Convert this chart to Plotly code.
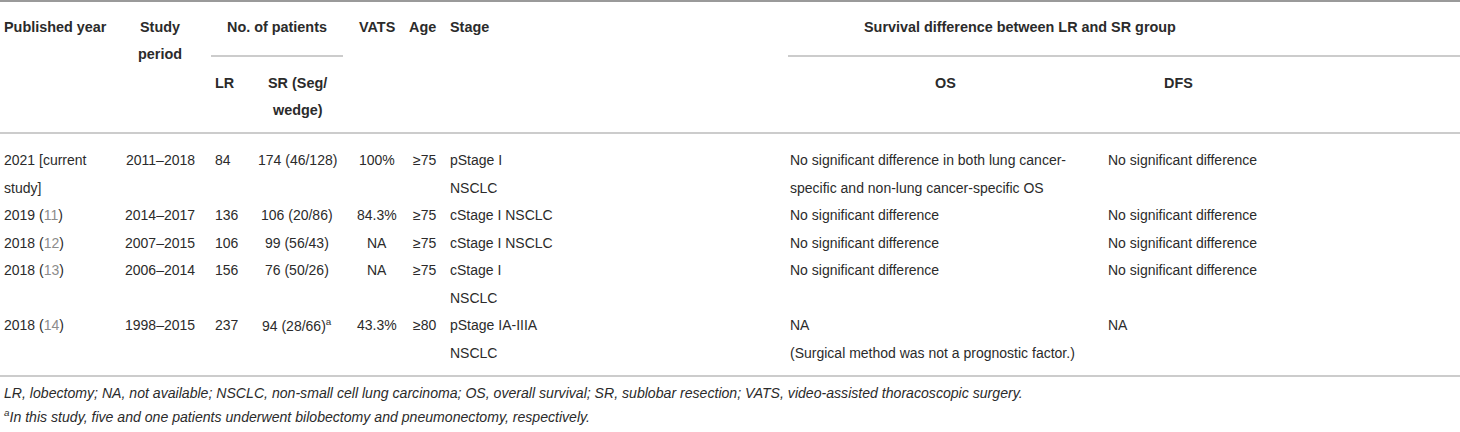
import plotly.graph_objects as go

# table contents
years = ["2021 [current<br>study]", "2019 (<span style='color:#8c8c8c'>11</span>)",
         "2018 (<span style='color:#8c8c8c'>12</span>)", "2018 (<span style='color:#8c8c8c'>13</span>)",
         "2018 (<span style='color:#8c8c8c'>14</span>)"]
periods = ["2011–2018", "2014–2017", "2007–2015", "2006–2014", "1998–2015"]
lr = ["84", "136", "106", "156", "237"]
sr = ["174 (46/128)", "106 (20/86)", "99 (56/43)", "76 (50/26)", "94 (28/66)<sup>a</sup>"]
vats = ["100%", "84.3%", "NA", "NA", "43.3%"]
age = ["≥75", "≥75", "≥75", "≥75", "≥80"]
stage = ["pStage I<br>NSCLC", "cStage I NSCLC", "cStage I NSCLC", "cStage I<br>NSCLC", "pStage IA-IIIA<br>NSCLC"]
os_diff = ["No significant difference in both lung cancer-<br>specific and non-lung cancer-specific OS",
           "No significant difference", "No significant difference", "No significant difference",
           "NA<br>(Surgical method was not a prognostic factor.)"]
dfs_diff = ["No significant difference", "No significant difference", "No significant difference",
            "No significant difference", "NA"]
footnotes = ["LR, lobectomy; NA, not available; NSCLC, non-small cell lung carcinoma; OS, overall survival; "
             "SR, sublobar resection; VATS, video-assisted thoracoscopic surgery.",
             "<sup>a</sup>In this study, five and one patients underwent bilobectomy and pneumonectomy, respectively."]

FONT = "Liberation Sans, Arial, sans-serif"
TXT = "#2b2b2b"
LINE = "#9a9a9a"
W, H = 1460, 432

fig = go.Figure()
fig.add_trace(go.Scatter(x=[0, W], y=[0, H], mode="markers", marker=dict(opacity=0),
                         hoverinfo="skip", showlegend=False))


def put(x, y, text, anchor="left", bold=False, italic=False, size=14):
    if bold:
        text = "<b>" + text + "</b>"
    if italic:
        text = "<i>" + text + "</i>"
    fig.add_annotation(x=x, y=y, xref="x", yref="y", text=text, showarrow=False,
                       xanchor=anchor, yanchor="middle", align=anchor,
                       font=dict(family=FONT, size=size, color=TXT))


def head(x, y, text, anchor="left"):
    put(x, y, text, anchor, bold=True, size=14.4)


def hline(x0, x1, y, w=1.2):
    fig.add_shape(type="line", x0=x0, x1=x1, y0=y, y1=y, xref="x", yref="y",
                  line=dict(color=LINE, width=w))


# column layout: (x, anchor)
cols = [(2, "left"), (160, "center"), (213, "left"), (297, "center"), (377, "center"),
        (411, "left"), (448, "left"), (788, "left"), (1106, "left")]

# header
head(2, 27, "Published year")
head(160, 27, "Study", "center")
head(160, 54, "period", "center")
head(277, 27, "No. of patients", "center")
head(213, 83, "LR")
head(297, 83, "SR (Seg/", "center")
head(297, 110, "wedge)", "center")
head(377, 27, "VATS", "center")
head(422, 27, "Age", "center")
head(448, 27, "Stage")
head(1020, 27, "Survival difference between LR and SR group", "center")
head(945, 83, "OS", "center")
head(1178, 83, "DFS", "center")

hline(0, W, 1, 2.2)
hline(211, 343, 56)
hline(788, W, 56)
hline(0, W, 133)

# body rows
y0, step = 160, 27.5
line_idx = 0
rows = list(zip(years, periods, lr, sr, vats, age, stage, os_diff, dfs_diff))
for row in rows:
    n_lines = 1
    for (x, anchor), cell in zip(cols, row):
        parts = cell.split("<br>")
        n_lines = max(n_lines, len(parts))
        for k, part in enumerate(parts):
            put(x, y0 + step * (line_idx + k), part, anchor)
    line_idx += n_lines

hline(0, W, 376)
put(2, 393, footnotes[0], italic=True, size=14.1)
put(2, 416, footnotes[1], italic=True, size=14.1)

fig.update_xaxes(range=[0, W], visible=False, fixedrange=True)
fig.update_yaxes(range=[H, 0], visible=False, fixedrange=True)
fig.update_layout(width=W, height=H, margin=dict(l=0, r=0, t=0, b=0),
                  plot_bgcolor="white", paper_bgcolor="white", showlegend=False)

fig.write_html("out.html", config={"displayModeBar": False},
               post_script="document.body.style.margin='0';document.body.style.overflow='hidden';")
